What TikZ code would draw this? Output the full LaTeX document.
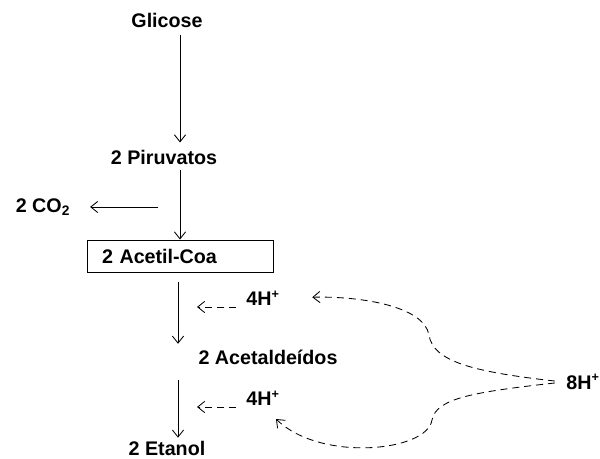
\documentclass[tikz,border=0pt]{standalone}
\usepackage{fontspec}
\setmainfont{Liberation Sans}
\usetikzlibrary{arrows.meta}
\tikzset{
  label/.style = {font=\fontsize{14}{16}\selectfont\bfseries, inner sep=2pt},
  box/.style = {label, draw, line width=0.7pt, minimum width=4.625cm, minimum height=0.8cm, text width=4.625cm-20pt, inner xsep=10pt, align=left},
  flow/.style = {line width=0.6pt, -{Straight Barb[length=5pt, width=8pt]}},
  dflow/.style = {flow, dash pattern=on 5pt off 3.5pt},
}
\newcommand{\plus}{\textsuperscript{\fontsize{9}{9}\selectfont +}}

\begin{document}
\begin{tikzpicture}[x=0.025cm, y=-0.025cm]

    \useasboundingbox (0,0) rectangle (600,459);

    % Coordinates
    \coordinate (stem) at (180,0);
    \coordinate (stemb) at (178,0);
    \coordinate (co2out) at (158,207);
    \coordinate (hplusaout) at (197,307);
    \coordinate (hplusbout) at (197,407);

    % Body
    \node[label] (glicose) at (167,20) {Glicose};
    \node[label] (piruvato) at (164,157) {2 Piruvatos};
    \node[label] (co2) at (43,207) {2 CO\textsubscript{2}};
    \node[box] (acetil) at (180.5,256) {2 Acetil-Coa};
    \node[label] (hplusa) at (263,298) {4H\plus};
    \node[label] (acetaldeido) at (268,357) {2 Acetaldeídos};
    \node[label] (hplusb) at (263,398) {4H\plus};
    \node[label] (etanol) at (167,448) {2 Etanol};
    \node[label] (hplus8) at (583,382) {8H\plus};

    % Pathway
    \draw[flow, shorten <=3pt, shorten >=3pt] (glicose.south -| stem) -- (piruvato.north -| stem);
    \draw[flow, shorten <=2pt] (piruvato.south -| stem) -- (acetil.north -| stem);
    \draw[flow] (co2out) -- (co2.east) [shorten >=12pt];
    \draw[flow, shorten <=7pt, shorten >=2pt] (acetil.south -| stemb) -- (acetaldeido.north -| stemb);
    \draw[flow, shorten <=9pt] (acetaldeido.south -| stemb) -- (etanol.north -| stemb);

    % Hydrogens
    \draw[dflow] (hplusa.west |- hplusaout) ++(-7,0) -- (hplusaout);
    \draw[dflow] (hplusb.west |- hplusbout) ++(-7,0) -- (hplusbout);
    \draw[dflow] (hplus8.west) .. controls (475,372) and (433,362) .. (429,335)
      .. controls (424,306) and (360,296) .. (hplusa.east) [shorten <=6pt, shorten >=21pt];
    \draw[dflow] (hplus8.west) .. controls (475,392) and (436,398) .. (432,420)
      .. controls (427,452) and (320,462) .. (276,419) [shorten <=6pt];

\end{tikzpicture}
\end{document}
